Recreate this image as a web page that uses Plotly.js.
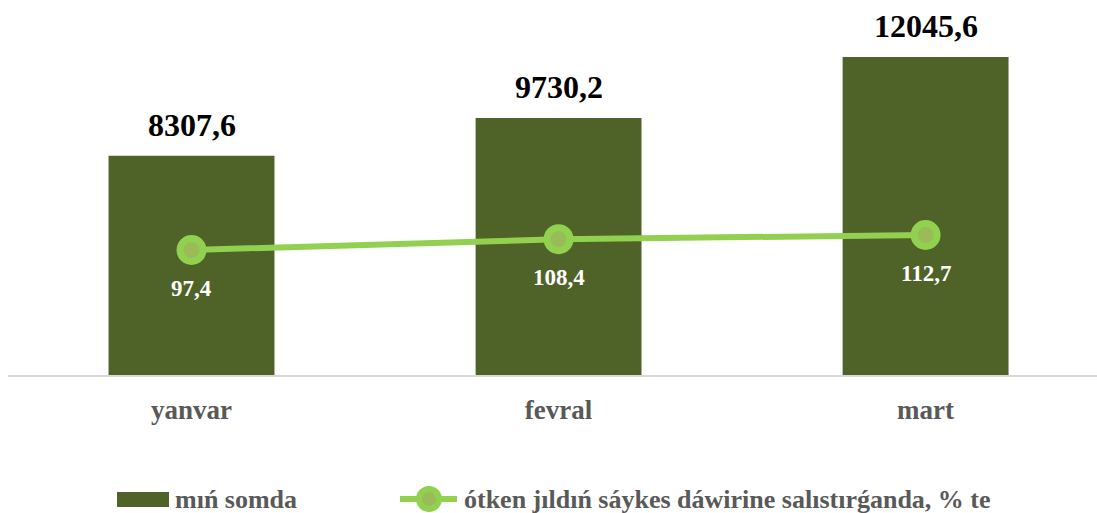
<!DOCTYPE html>
<html>
<head>
<meta charset="utf-8">
<script src="https://cdn.plot.ly/plotly-3.0.1.min.js"></script>
<style>
  html, body { margin: 0; padding: 0; background: #fff; }
  #chart { width: 1097px; height: 513px; }
</style>
</head>
<body>
<div id="chart"></div>
<script>
'use strict'
var months = ['yanvar', 'fevral', 'mart'];
var amount = [8307.6, 9730.2, 12045.6];
var growth = [97.4, 108.4, 112.7];
var barName = 'mıń somda';
var lineName = 'ótken jıldıń sáykes dáwirine salıstırǵanda, % te';

var serif = '"Liberation Serif", "Times New Roman", serif';

function fmt(v){
  return v.toFixed(1).replace('.', ',');
}

/* bar and line labels are placed on the data points */
var annotations = [];
for(var i = 0; i < months.length; i++){
  annotations.push({
    x: months[i], y: amount[i], xref: 'x', yref: 'y',
    text: fmt(amount[i]), showarrow: false,
    yanchor: 'bottom', yshift: 11,
    font: {family: serif, size: 32, color: '#000000', weight: 'bold'}
  });
  annotations.push({
    x: months[i], y: growth[i], xref: 'x', yref: 'y2',
    text: fmt(growth[i]), showarrow: false,
    yanchor: 'top', yshift: -24,
    font: {family: serif, size: 23, color: '#ffffff', weight: 'bold'}
  });
}

/* legend drawn by hand, paper coords: plot spans x 8..1097, y 5..375 px */
function px(x){ return (x - 8) / 1089; }
function py(y){ return (375 - y) / 370; }

annotations.push({
  x: px(173), y: py(499), xref: 'paper', yref: 'paper',
  xanchor: 'left', yanchor: 'middle', text: barName, showarrow: false,
  font: {family: serif, size: 26, color: '#595959', weight: 'bold'}
});
annotations.push({
  x: px(462), y: py(499), xref: 'paper', yref: 'paper',
  xanchor: 'left', yanchor: 'middle', text: lineName, showarrow: false,
  font: {family: serif, size: 26, color: '#595959', weight: 'bold'}
});

var shapes = [
  {type: 'rect', xref: 'paper', yref: 'paper',
   x0: px(117), x1: px(169), y0: py(492), y1: py(507),
   fillcolor: '#4F6228', line: {width: 0}},
  {type: 'line', xref: 'paper', yref: 'paper',
   x0: px(400), x1: px(457), y0: py(499), y1: py(499),
   line: {color: '#92D050', width: 6}},
  {type: 'circle', xref: 'paper', yref: 'paper',
   xsizemode: 'pixel', ysizemode: 'pixel',
   xanchor: px(429), yanchor: py(499),
   x0: -10, x1: 10, y0: -10, y1: 10,
   fillcolor: '#9BBB59', line: {color: '#92D050', width: 6}}
];

var barTrace = {
  type: 'bar',
  name: barName,
  x: months,
  y: amount,
  marker: {color: '#4F6228'},
  hoverinfo: 'none'
};

var lineTrace = {
  type: 'scatter',
  mode: 'lines+markers',
  name: lineName,
  x: months,
  y: growth,
  yaxis: 'y2',
  line: {color: '#92D050', width: 6},
  marker: {size: 23, color: '#9BBB59', line: {color: '#92D050', width: 7}},
  hoverinfo: 'none'
};

var layout = {
  width: 1097,
  height: 513,
  margin: {l: 8, r: 0, t: 5, b: 138, pad: 0},
  paper_bgcolor: '#ffffff',
  plot_bgcolor: '#ffffff',
  showlegend: false,
  bargap: 0.548,
  xaxis: {
    type: 'category',
    range: [-0.5, 2.467],
    showline: true,
    linecolor: '#D9D9D9',
    linewidth: 2,
    ticks: '',
    showgrid: false,
    ticklabelstandoff: 10,
    tickfont: {family: serif, size: 27, color: '#595959', weight: 'bold'}
  },
  yaxis: {
    range: [0, 14015],
    showticklabels: false,
    showgrid: false,
    zeroline: false
  },
  yaxis2: {
    overlaying: 'y',
    side: 'right',
    range: [-30.15, 347.4],
    showticklabels: false,
    showgrid: false,
    zeroline: false
  },
  annotations: annotations,
  shapes: shapes
};

Plotly.newPlot('chart', [barTrace, lineTrace], layout, {displayModeBar: false, staticPlot: true});
</script>
</body>
</html>
